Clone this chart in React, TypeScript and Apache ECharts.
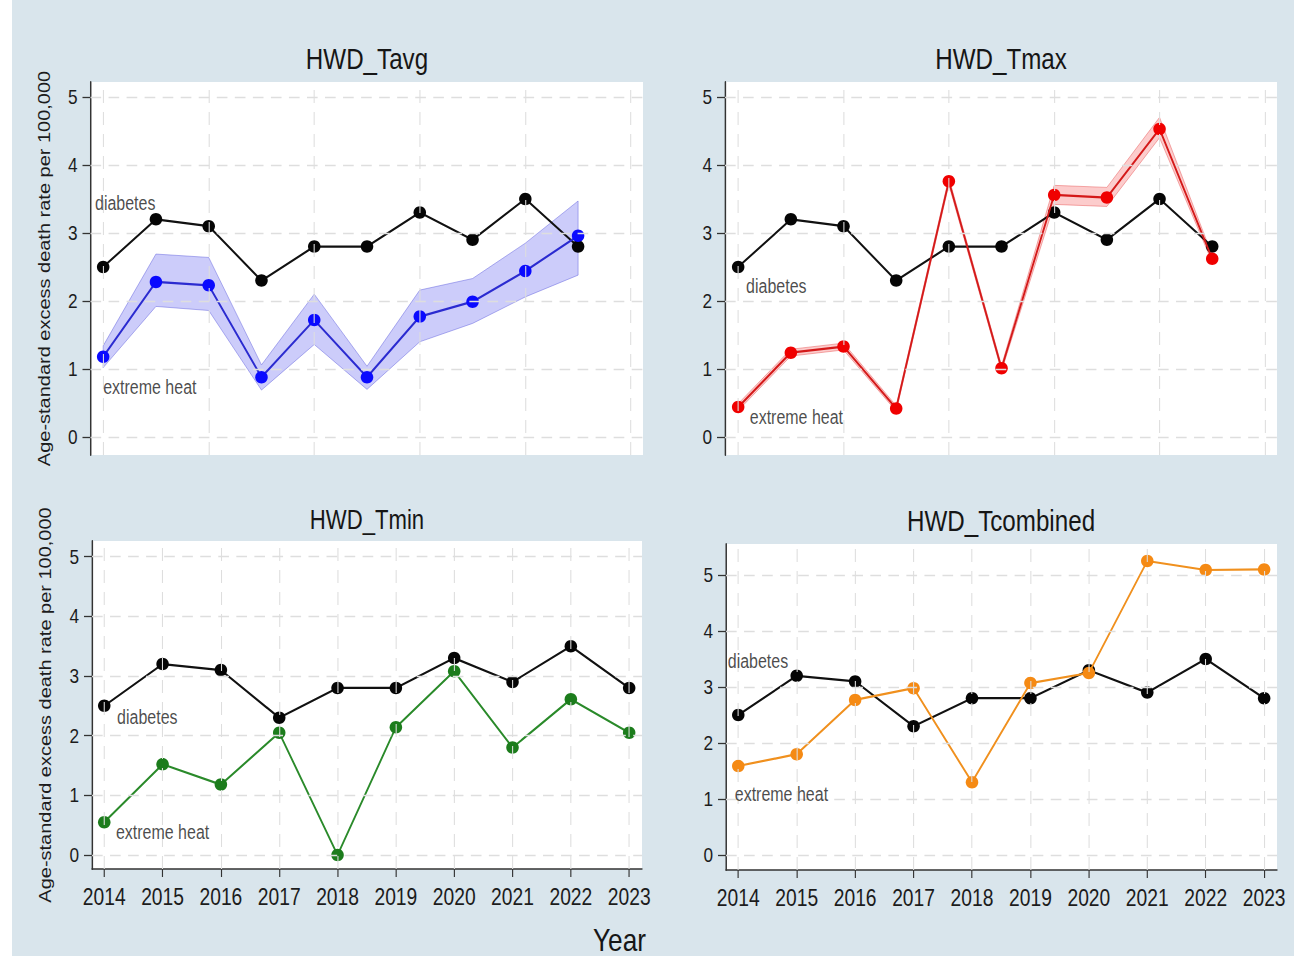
import React, { useEffect, useRef } from "react";
import * as echarts from "echarts";

// ---- data ----
const YEARS = [2014, 2015, 2016, 2017, 2018, 2019, 2020, 2021, 2022, 2023];
const DIABETES = [2.5, 3.2, 3.1, 2.3, 2.8, 2.8, 3.3, 2.9, 3.5, 2.8];

const TAVG = [1.18, 2.28, 2.23, 0.88, 1.72, 0.88, 1.77, 1.99, 2.44, 2.96];
const TAVG_LO = [1.02, 1.92, 1.86, 0.69, 1.36, 0.7, 1.4, 1.67, 2.06, 2.38];
const TAVG_HI = [1.34, 2.69, 2.64, 1.06, 2.1, 1.04, 2.16, 2.33, 2.85, 3.47];

const TMAX = [0.44, 1.24, 1.33, 0.42, 3.76, 1.01, 3.56, 3.52, 4.53, 2.62];
const TMAX_LO = [0.39, 1.19, 1.28, 0.38, 3.71, 0.97, 3.42, 3.39, 4.4, 2.57];
const TMAX_HI = [0.49, 1.29, 1.38, 0.46, 3.81, 1.05, 3.7, 3.67, 4.7, 2.67];

const TMIN = [0.55, 1.52, 1.18, 2.05, 0.0, 2.14, 3.08, 1.8, 2.61, 2.05];
const TCOMB = [1.59, 1.8, 2.77, 2.98, 1.3, 3.07, 3.25, 5.25, 5.09, 5.1];

const Y_TICKS = [0, 1, 2, 3, 4, 5];
const X_GRID_TOP = [2014, 2016, 2018, 2020, 2022, 2024];

const PANEL_TITLES = ["HWD_Tavg", "HWD_Tmax", "HWD_Tmin", "HWD_Tcombined"];
const Y_TITLE = "Age-standard excess death rate per 100,000";
const X_TITLE = "Year";
const LABEL_DIAB = "diabetes";
const LABEL_HEAT = "extreme heat";

// label anchors in data units [x, y] per panel
const DIAB_LABEL_POS = [
  [2013.845, 3.44],
  [2014.15, 2.21],
  [2014.22, 2.3],
  [2013.82, 3.45],
];
const HEAT_LABEL_POS = [
  [2014.0, 0.735],
  [2014.22, 0.28],
  [2014.2, 0.37],
  [2013.94, 1.09],
];

// ---- layout ----
// The figure is laid out on a wider canvas and compressed horizontally,
// which gives the condensed lettering of the exported graph.
const SQUEEZE = 0.82;
const PAGE_LEFT = 12;
const CANVAS_W = (1294 - PAGE_LEFT + 4) / SQUEEZE;
const CANVAS_H = 956;
const X = (pagePx: number) => (pagePx - PAGE_LEFT) / SQUEEZE;
const W = (pagePx: number) => pagePx / SQUEEZE;

const FONT = '"Liberation Sans", Arial, Helvetica, sans-serif';
const BG = "#d9e5ec";
const AXIS = "#333333";
const GRIDLINE = "#dedede";
const TEXT = "#1c1c1c";

// filled disc drawn as a stretchable path so it stays round after the squeeze
const DOT =
  "path://M50 0C77.6 0 100 22.4 100 50C100 77.6 77.6 100 50 100C22.4 100 0 77.6 0 50C0 22.4 22.4 0 50 0Z";
const MARKER: [number, number] = [12.5 / SQUEEZE, 12.5];

type Panel = {
  grid: { left: number; top: number; width: number; height: number };
  xMin: number;
  xMax: number;
  yMin: number;
  yMax: number;
  bottomAxis: boolean;
  xGrid: number[];
  heat: number[];
  lo?: number[];
  hi?: number[];
  lineColor: string;
  markerColor: string;
  bandFill?: string;
  bandStroke?: string;
};

const PANELS: Panel[] = [
  {
    grid: { left: X(90.5), top: 82, width: W(552.5), height: 373 },
    xMin: 2013.76, xMax: 2024.23, yMin: -0.265, yMax: 5.22,
    bottomAxis: false, xGrid: X_GRID_TOP,
    heat: TAVG, lo: TAVG_LO, hi: TAVG_HI,
    lineColor: "#2b2bd0", markerColor: "#0a0aff",
    bandFill: "rgba(110,110,240,0.35)", bandStroke: "rgba(90,90,220,0.5)",
  },
  {
    grid: { left: X(725), top: 82, width: W(552), height: 373 },
    xMin: 2013.75, xMax: 2024.23, yMin: -0.265, yMax: 5.22,
    bottomAxis: false, xGrid: X_GRID_TOP,
    heat: TMAX, lo: TMAX_LO, hi: TMAX_HI,
    lineColor: "#d41a1a", markerColor: "#f00000",
    bandFill: "rgba(245,110,110,0.35)", bandStroke: "rgba(230,80,80,0.5)",
  },
  {
    grid: { left: X(92), top: 541, width: W(550), height: 328 },
    xMin: 2013.79, xMax: 2023.22, yMin: -0.235, yMax: 5.263,
    bottomAxis: true, xGrid: YEARS,
    heat: TMIN,
    lineColor: "#2a8a2a", markerColor: "#1c7c1c",
  },
  {
    grid: { left: X(726), top: 544, width: W(551), height: 326 },
    xMin: 2013.79, xMax: 2023.22, yMin: -0.268, yMax: 5.554,
    bottomAxis: true, xGrid: YEARS,
    heat: TCOMB,
    lineColor: "#f0901e", markerColor: "#f58a14",
  },
];

function pairs(vals: number[]) {
  return YEARS.map((y, i) => [y, vals[i]]);
}

function connected(k: number, vals: number[], lineColor: string, dotColor: string, z: number) {
  return [
    {
      type: "line",
      xAxisIndex: k,
      yAxisIndex: k,
      data: pairs(vals),
      showSymbol: false,
      symbol: "none",
      silent: true,
      z,
      lineStyle: { color: lineColor, width: 2.2 },
    },
    {
      type: "scatter",
      xAxisIndex: k,
      yAxisIndex: k,
      data: pairs(vals),
      symbol: DOT,
      symbolSize: MARKER,
      silent: true,
      z: z + 0.5,
      itemStyle: { color: dotColor, borderWidth: 0, opacity: 1 },
    },
  ];
}

function buildOption() {
  const grid: any[] = [];
  const xAxis: any[] = [];
  const yAxis: any[] = [];
  const series: any[] = [];
  const graphic: any[] = [];

  PANELS.forEach((p, k) => {
    grid.push({
      ...p.grid,
      show: true,
      backgroundColor: "#ffffff",
      borderWidth: 0,
      containLabel: false,
    });

    xAxis.push({
      type: "value",
      gridIndex: k,
      min: p.xMin,
      max: p.xMax,
      splitLine: { show: false },
      axisLine: { show: p.bottomAxis, onZero: false, lineStyle: { color: AXIS, width: 1.6 } },
      axisTick: {
        show: p.bottomAxis,
        customValues: YEARS,
        length: 8,
        lineStyle: { color: AXIS, width: 1.4 },
      },
      axisLabel: {
        show: p.bottomAxis,
        customValues: YEARS,
        formatter: (v: number) => String(v),
        fontFamily: FONT,
        fontSize: 23.5,
        color: TEXT,
        margin: 16,
      },
    });

    yAxis.push({
      type: "value",
      gridIndex: k,
      min: p.yMin,
      max: p.yMax,
      splitLine: { show: false },
      axisLine: { show: true, onZero: false, lineStyle: { color: AXIS, width: 1.8 } },
      axisTick: {
        show: true,
        customValues: Y_TICKS,
        length: W(8),
        lineStyle: { color: AXIS, width: 1.3 },
      },
      axisLabel: {
        customValues: Y_TICKS,
        formatter: (v: number) => String(v),
        fontFamily: FONT,
        fontSize: 21,
        color: TEXT,
        margin: W(13),
      },
      name: k % 2 === 0 ? Y_TITLE : "",
      nameLocation: "middle",
      nameRotate: 90,
      nameGap: W(38.5),
      nameTextStyle: { fontFamily: FONT, fontSize: 20, color: TEXT },
    });

    // dashed reference grid
    series.push({
      type: "line",
      xAxisIndex: k,
      yAxisIndex: k,
      data: [],
      z: 0,
      silent: true,
      markLine: {
        silent: true,
        symbol: "none",
        animation: false,
        label: { show: false },
        lineStyle: { type: [13, 9], color: GRIDLINE, width: 1.3 },
        data: [
          ...p.xGrid.map((v) => ({ xAxis: v })),
          ...Y_TICKS.map((v) => ({ yAxis: v })),
        ],
      },
    });

    // confidence band
    if (p.lo && p.hi) {
      const lo = p.lo;
      const hi = p.hi;
      series.push({
        type: "custom",
        xAxisIndex: k,
        yAxisIndex: k,
        silent: true,
        z: 1,
        data: [[YEARS[0], lo[0]]],
        renderItem: (_params: any, api: any) => {
          const upper = YEARS.map((y, i) => api.coord([y, hi[i]]));
          const lower = YEARS.map((y, i) => api.coord([y, lo[i]])).reverse();
          return {
            type: "polygon",
            shape: { points: upper.concat(lower) },
            style: { fill: p.bandFill, stroke: p.bandStroke, lineWidth: 1 },
          };
        },
      });
    }

    // diabetes, then extreme heat on top
    series.push(...connected(k, DIABETES, "#111111", "#050505", 3));
    series.push(...connected(k, p.heat, p.lineColor, p.markerColor, 4));

    // in-plot text annotations
    const annotations: [number[], string][] = [
      [DIAB_LABEL_POS[k], LABEL_DIAB],
      [HEAT_LABEL_POS[k], LABEL_HEAT],
    ];
    annotations.forEach(([pos, text]) => {
      series.push({
        type: "scatter",
        xAxisIndex: k,
        yAxisIndex: k,
        symbolSize: 0,
        silent: true,
        z: 5,
        data: [pos],
        label: {
          show: true,
          position: "right",
          distance: 0,
          formatter: text,
          fontFamily: FONT,
          fontSize: 19.5,
          color: TEXT,
        },
      });
    });
  });

  // panel titles
  const titleCenters = [
    [X(367), 59, 29.5],
    [X(1001), 59, 29.5],
    [X(367), 520, 27],
    [X(1001), 521, 29.5],
  ];
  PANEL_TITLES.forEach((t, k) => {
    const [x, y, fs] = titleCenters[k];
    graphic.push({
      type: "text",
      x,
      y,
      silent: true,
      style: {
        text: t,
        fontFamily: FONT,
        fontSize: fs,
        fill: "#161616",
        textAlign: "center",
        textVerticalAlign: "middle",
      },
    });
  });

  graphic.push({
    type: "text",
    x: X(646),
    y: 940,
    silent: true,
    style: {
      text: X_TITLE,
      fontFamily: FONT,
      fontSize: 32,
      fill: "#161616",
      textAlign: "right",
      textVerticalAlign: "middle",
    },
  });

  return {
    animation: false,
    backgroundColor: BG,
    grid,
    xAxis,
    yAxis,
    series,
    graphic,
  };
}

export default function App() {
  const ref = useRef<HTMLDivElement>(null);

  useEffect(() => {
    if (!ref.current) return;
    const chart = echarts.init(ref.current, undefined, { renderer: "svg" });
    chart.setOption(buildOption() as any);
    return () => chart.dispose();
  }, []);

  return (
    <div
      ref={ref}
      style={{
        position: "fixed",
        left: PAGE_LEFT,
        top: 0,
        width: CANVAS_W,
        height: CANVAS_H,
        transform: `scaleX(${SQUEEZE})`,
        transformOrigin: "0 0",
      }}
    />
  );
}
